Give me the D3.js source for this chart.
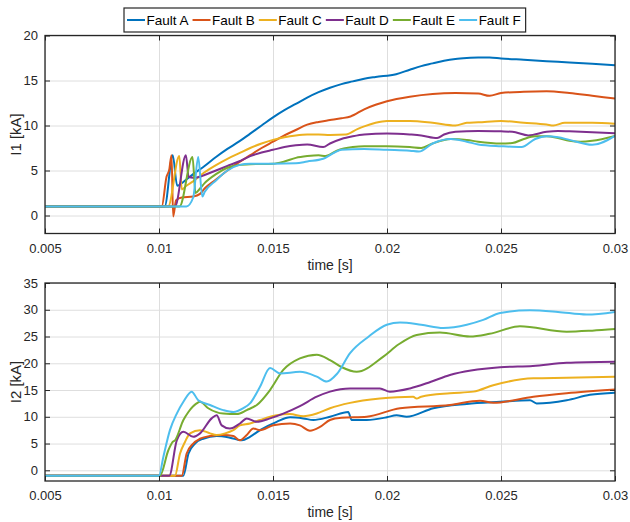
<!DOCTYPE html>
<html><head><meta charset="utf-8">
<script src="https://cdn.jsdelivr.net/npm/d3@7"></script>
<style>body{margin:0;background:#fff}svg{display:block}</style>
</head><body><svg id="c" width="630" height="522"></svg>
<script>
const seriesNames = ["Fault A","Fault B","Fault C","Fault D","Fault E","Fault F"];
const seriesColors = ["#0072BD","#D95319","#EDB120","#7E2F8E","#77AC30","#4DBEEE"];
const xTicks = [0.005,0.01,0.015,0.02,0.025,0.03];
const xTickLabels = ["0.005","0.01","0.015","0.02","0.025","0.03"];
const i1Ticks = [0,5,10,15,20];
const i2Ticks = [0,5,10,15,20,25,30,35];

// I1 [kA] : [time s, value]
const i1A = [[0.005,1],[0.01025,1],[0.0106,6.7],[0.0108,3.3],[0.0110,3.6],[0.0112,4.0],[0.0115,4.6],[0.012,5.5],[0.0125,6.5],[0.013,7.4],[0.0135,8.2],[0.014,9.1],[0.0145,10.0],[0.015,10.9],[0.0155,11.7],[0.016,12.4],[0.0165,13.1],[0.017,13.7],[0.0175,14.2],[0.018,14.6],[0.0185,14.9],[0.019,15.2],[0.0195,15.4],[0.0204,15.7],[0.021,16.2],[0.0215,16.6],[0.022,16.9],[0.0225,17.2],[0.023,17.4],[0.0235,17.5],[0.024,17.55],[0.0245,17.55],[0.025,17.45],[0.026,17.3],[0.027,17.15],[0.028,17.0],[0.029,16.85],[0.03,16.7]];
const i1B = [[0.005,1],[0.01012,1],[0.01033,4.3],[0.01045,5.1],[0.01055,6.7],[0.01062,-0.1],[0.01075,1.7],[0.0110,2.0],[0.0115,2.1],[0.0118,2.4],[0.012,3.0],[0.0125,4.0],[0.013,5.0],[0.0135,5.9],[0.014,6.7],[0.0145,7.5],[0.015,8.2],[0.0155,8.9],[0.016,9.5],[0.0165,10.1],[0.017,10.4],[0.0175,10.6],[0.018,10.8],[0.0184,11.0],[0.019,11.8],[0.0195,12.3],[0.020,12.7],[0.021,13.2],[0.022,13.5],[0.023,13.6],[0.024,13.55],[0.0245,13.3],[0.025,13.6],[0.026,13.75],[0.027,13.8],[0.028,13.6],[0.029,13.3],[0.03,13.0]];
const i1C = [[0.005,1],[0.0104,1],[0.01089,6.6],[0.0110,2.9],[0.0112,3.3],[0.0115,3.8],[0.012,4.8],[0.0125,5.6],[0.013,6.3],[0.0135,6.9],[0.014,7.5],[0.0145,8.0],[0.015,8.4],[0.0155,8.7],[0.016,8.9],[0.0165,9.0],[0.017,9.0],[0.0175,8.95],[0.0182,9.0],[0.0187,9.6],[0.019,9.9],[0.0195,10.3],[0.020,10.5],[0.021,10.5],[0.022,10.3],[0.023,10.0],[0.0235,10.3],[0.024,10.35],[0.025,10.5],[0.026,10.3],[0.027,10.1],[0.0273,10.0],[0.0278,10.3],[0.029,10.3],[0.03,10.2]];
const i1D = [[0.005,1],[0.0107,1],[0.01118,6.7],[0.0113,4.3],[0.0115,4.2],[0.0118,4.3],[0.012,4.5],[0.0125,5.0],[0.013,5.5],[0.0135,6.0],[0.014,6.6],[0.0145,7.0],[0.015,7.3],[0.0155,7.6],[0.016,7.8],[0.0165,7.9],[0.0172,7.6],[0.0175,8.0],[0.018,8.5],[0.0185,8.8],[0.019,9.0],[0.020,9.1],[0.021,9.0],[0.0215,8.9],[0.0222,8.6],[0.0225,9.0],[0.023,9.3],[0.024,9.4],[0.025,9.35],[0.0255,9.3],[0.0262,8.9],[0.027,9.3],[0.0275,9.4],[0.028,9.35],[0.029,9.25],[0.03,9.15]];
const i1E = [[0.005,1],[0.0109,1],[0.01147,6.5],[0.0116,2.5],[0.0118,3.0],[0.012,3.6],[0.0125,4.6],[0.013,5.3],[0.0135,5.6],[0.014,5.7],[0.015,5.75],[0.0155,6.0],[0.016,6.4],[0.0165,6.6],[0.017,6.7],[0.0173,6.6],[0.0178,7.2],[0.0185,7.6],[0.019,7.7],[0.020,7.7],[0.021,7.6],[0.0215,7.5],[0.022,8.0],[0.0228,8.5],[0.0235,8.4],[0.024,8.2],[0.025,8.0],[0.0255,8.05],[0.026,8.5],[0.0265,8.8],[0.027,8.8],[0.0275,8.6],[0.028,8.3],[0.0285,8.2],[0.029,8.3],[0.03,8.85]];
const i1F = [[0.005,1],[0.0112,1],[0.0115,2.0],[0.01172,6.5],[0.0119,2.1],[0.012,2.6],[0.0125,3.9],[0.013,5.0],[0.0135,5.6],[0.014,5.75],[0.015,5.75],[0.016,5.8],[0.0165,6.0],[0.0172,6.3],[0.0177,7.0],[0.018,7.3],[0.019,7.4],[0.020,7.3],[0.021,7.2],[0.0214,7.1],[0.022,8.0],[0.0228,8.5],[0.0235,8.2],[0.024,7.9],[0.025,7.7],[0.0259,7.6],[0.0265,8.5],[0.027,8.8],[0.0275,8.7],[0.028,8.4],[0.029,7.85],[0.03,8.85]];

// I2 [kA]
const i2A = [[0.005,-1],[0.01107,-1],[0.01129,3.1],[0.01158,5.0],[0.01194,5.9],[0.01253,6.4],[0.01311,6.1],[0.01363,5.6],[0.01399,6.25],[0.01443,7.5],[0.01516,9.06],[0.01575,9.9],[0.01633,9.7],[0.01677,9.4],[0.0175,10.0],[0.0183,10.9],[0.01845,9.4],[0.01911,9.4],[0.01999,9.9],[0.02042,10.3],[0.02086,10.0],[0.02203,11.6],[0.0235,12.4],[0.02496,12.8],[0.02627,13.1],[0.02656,12.5],[0.02788,13.1],[0.0289,14.1],[0.03,14.5]];
const i2B = [[0.005,-1],[0.011,-1],[0.01121,3.1],[0.0115,5.0],[0.0118,5.9],[0.01224,6.4],[0.01282,6.6],[0.01326,6.4],[0.01355,5.6],[0.01385,6.6],[0.01414,7.8],[0.01443,7.5],[0.01501,8.4],[0.01575,8.75],[0.01618,8.4],[0.01662,7.4],[0.01706,8.1],[0.0175,9.4],[0.0180,9.8],[0.01911,10.0],[0.02057,11.6],[0.02276,12.2],[0.02408,13.0],[0.02466,12.6],[0.02642,13.75],[0.02788,14.4],[0.03,15.1]];
const i2C = [[0.005,-1],[0.0107,-1],[0.01092,3.1],[0.01114,5.3],[0.01136,6.9],[0.0118,7.5],[0.01224,6.9],[0.01253,6.6],[0.0129,6.9],[0.01326,7.5],[0.01355,8.4],[0.01399,8.75],[0.01443,9.4],[0.01516,10.3],[0.01575,10.5],[0.01633,10.1],[0.01692,10.6],[0.0175,11.6],[0.01838,12.6],[0.01969,13.4],[0.02115,13.75],[0.0213,13.4],[0.0215,13.75],[0.02276,14.4],[0.02379,14.7],[0.02466,15.9],[0.02642,17.2],[0.02788,17.3],[0.03,17.5]];
const i2D = [[0.005,-1],[0.01045,-1],[0.01078,5.6],[0.01107,7.2],[0.0115,6.25],[0.0118,6.9],[0.01231,9.7],[0.01253,10.3],[0.01275,8.4],[0.01311,7.8],[0.01355,8.75],[0.01385,9.7],[0.01429,9.06],[0.01487,9.7],[0.01545,10.6],[0.01618,12.0],[0.01692,13.75],[0.0175,14.7],[0.01838,15.3],[0.01969,15.3],[0.02013,14.7],[0.02101,15.3],[0.0219,16.5],[0.02276,17.8],[0.02496,19.25],[0.0264,19.5],[0.02788,20.1],[0.03,20.3]];
const i2E = [[0.005,-1],[0.01004,-1],[0.01041,3.75],[0.0106,5.3],[0.0107,5.6],[0.01107,9.4],[0.01129,10.9],[0.01165,12.5],[0.0118,12.8],[0.01216,11.6],[0.01282,10.6],[0.01341,10.5],[0.01385,11.25],[0.01429,12.2],[0.01487,15.0],[0.01545,18.75],[0.01618,20.9],[0.01692,21.6],[0.0175,20.6],[0.0180,19.3],[0.01867,18.4],[0.01984,21.25],[0.0205,23.5],[0.0213,25.3],[0.02232,25.75],[0.02364,25.0],[0.0245,25.5],[0.02583,26.9],[0.02788,25.9],[0.029,26.1],[0.03,26.4]];
const i2F = [[0.005,-1],[0.01,-1],[0.01019,2.5],[0.01048,7.5],[0.01078,10.6],[0.01107,12.8],[0.01143,14.7],[0.01172,13.1],[0.01224,12.2],[0.01282,11.25],[0.01326,10.9],[0.0137,11.6],[0.01399,12.5],[0.01443,15.6],[0.01487,19.1],[0.01531,18.1],[0.01618,18.4],[0.01692,17.5],[0.01736,16.6],[0.0178,18.0],[0.01838,21.9],[0.0192,25.0],[0.01999,27.2],[0.02057,27.6],[0.0215,27.2],[0.02247,26.6],[0.0235,27.2],[0.02422,28.1],[0.02496,29.4],[0.02627,29.9],[0.0275,29.6],[0.02876,29.1],[0.03,29.6]];

const i1Series = [i1A,i1B,i1C,i1D,i1E,i1F];
const i2Series = [i2A,i2B,i2C,i2D,i2E,i2F];

const FONT = "'Liberation Sans', Arial, Helvetica, sans-serif";
const AXC = "#262626";
const svg = d3.select("#c");
svg.append("rect").attr("width",630).attr("height",522).attr("fill","#fff");

function panel(id, top, bottom, ydom, yTicks, series, ylabel) {
  const left = 45, right = 615;
  const x = d3.scaleLinear().domain([0.005,0.03]).range([left,right]);
  const y = d3.scaleLinear().domain(ydom).range([bottom,top]);
  const g = svg.append("g");
  g.append("rect").attr("x",left).attr("y",top).attr("width",right-left).attr("height",bottom-top).attr("fill","#fff");
  // grid
  g.append("g").attr("transform",`translate(0,${bottom})`)
    .call(d3.axisBottom(x).tickValues(xTicks).tickSize(-(bottom-top)).tickFormat(""))
    .call(s=>{s.select(".domain").remove();s.selectAll("line").attr("stroke","#dedede").attr("stroke-width",1);});
  g.append("g").attr("transform",`translate(${left},0)`)
    .call(d3.axisLeft(y).tickValues(yTicks).tickSize(-(right-left)).tickFormat(""))
    .call(s=>{s.select(".domain").remove();s.selectAll("line").attr("stroke","#dedede").attr("stroke-width",1);});
  // clip
  svg.append("clipPath").attr("id",id).append("rect").attr("x",left).attr("y",top).attr("width",right-left).attr("height",bottom-top);
  const line = d3.line().x(d=>x(d[0])).y(d=>y(d[1])).curve(d3.curveMonotoneX);
  const lg = g.append("g").attr("clip-path",`url(#${id})`);
  series.forEach((s,i)=>{
    lg.append("path").attr("d",line(s)).attr("fill","none").attr("stroke",seriesColors[i])
      .attr("stroke-width",2).attr("stroke-linejoin","round");
  });
  // axes
  const styleAx = s=>{s.select(".domain").remove();s.selectAll("line").attr("stroke",AXC).attr("stroke-width",1);
    s.selectAll("text").attr("fill",AXC).style("font-family",FONT).style("font-size","13px");};
  g.append("g").attr("transform",`translate(0,${bottom})`)
    .call(d3.axisBottom(x).tickValues(xTicks).tickFormat((d,i)=>xTickLabels[i]).tickSizeInner(-5).tickSizeOuter(0).tickPadding(10)).call(styleAx);
  g.append("g").attr("transform",`translate(0,${top})`)
    .call(d3.axisTop(x).tickValues(xTicks).tickFormat("").tickSizeInner(-5).tickSizeOuter(0)).call(styleAx);
  g.append("g").attr("transform",`translate(${left},0)`)
    .call(d3.axisLeft(y).tickValues(yTicks).tickFormat(d3.format("d")).tickSizeInner(-5).tickSizeOuter(0).tickPadding(7)).call(styleAx);
  g.append("g").attr("transform",`translate(${right},0)`)
    .call(d3.axisRight(y).tickValues(yTicks).tickFormat("").tickSizeInner(-5).tickSizeOuter(0)).call(styleAx);
  g.append("rect").attr("x",left).attr("y",top).attr("width",right-left).attr("height",bottom-top)
    .attr("fill","none").attr("stroke",AXC).attr("stroke-width",1.3);
  // labels
  g.append("text").attr("x",(left+right)/2).attr("y",bottom+36).attr("text-anchor","middle")
    .style("font-family",FONT).style("font-size","14px").attr("fill",AXC).text("time [s]");
  g.append("text").attr("transform",`translate(20.5,${(top+bottom)/2}) rotate(-90)`).attr("text-anchor","middle")
    .style("font-family",FONT).style("font-size","15px").attr("fill",AXC).text(ylabel);
}

panel("clipTop", 35.5, 233.5, [-2,20], i1Ticks, i1Series, "I1 [kA]");
panel("clipBot", 283, 481, [-2,35], i2Ticks, i2Series, "I2 [kA]");

// legend
const leg = svg.append("g");
const box = leg.append("rect").attr("x",124).attr("y",8).attr("height",24).attr("fill","#fff").attr("stroke",AXC).attr("stroke-width",1.2);
let cx = 127;
seriesNames.forEach((n,i)=>{
  leg.append("line").attr("x1",cx).attr("x2",cx+18).attr("y1",20).attr("y2",20).attr("stroke",seriesColors[i]).attr("stroke-width",2);
  const t = leg.append("text").attr("x",cx+19.5).attr("y",25).style("font-family",FONT).style("font-size","13.5px").attr("fill","#000").text(n);
  cx = cx + 19.5 + t.node().getComputedTextLength() + 4;
});
box.attr("width", cx - 124 + 1);
</script>
</body></html>
